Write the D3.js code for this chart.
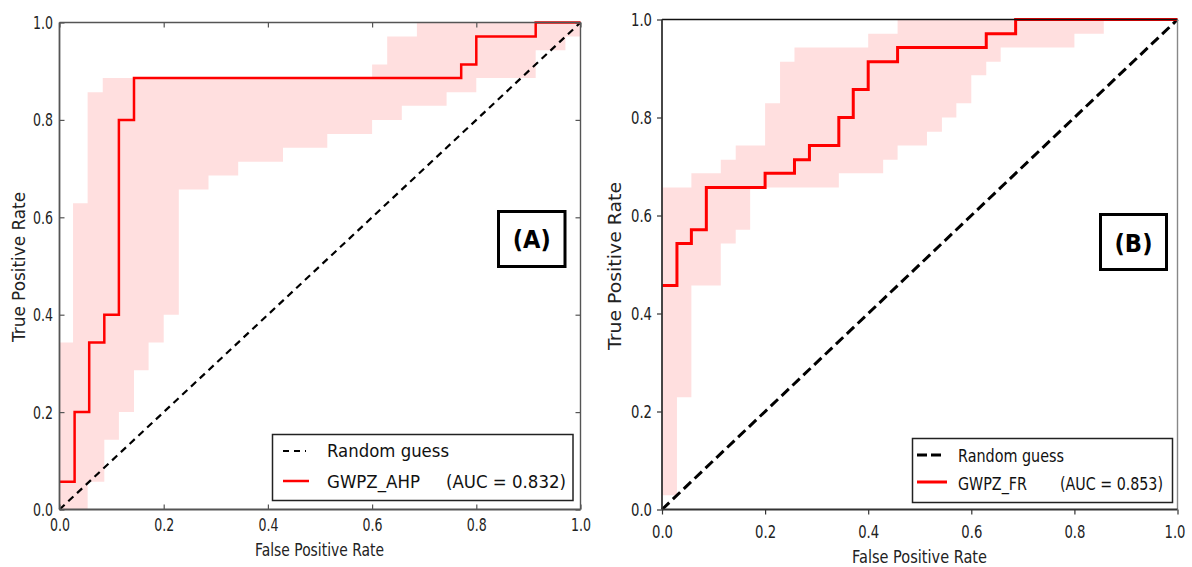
<!DOCTYPE html>
<html>
<head>
<meta charset="utf-8">
<script src="https://d3js.org/d3.v7.min.js"></script>
<style>
body{margin:0;background:#fff;font-family:'DejaVu Sans',sans-serif}
svg{display:block}
</style>
</head>
<body>
<svg id="chart" width="1192" height="567"></svg>
<script>
// tick values shared by both panels
const ticks = [0, 0.2, 0.4, 0.6, 0.8, 1.0];

// panel A : GWPZ_AHP  (step points as [fpr, tpr])
const rocA = [[0,0.057],[0.029,0.2],[0.057,0.343],[0.086,0.4],[0.114,0.8],[0.143,0.886],
  [0.771,0.914],[0.8,0.971],[0.914,1],[1,1]];
const upperA = [[0,0.343],[0.026,0.629],[0.054,0.857],[0.083,0.886],[0.6,0.914],[0.629,0.971],
  [0.686,1],[1,1]];
const lowerA = [[0,0],[0.054,0.057],[0.086,0.143],[0.114,0.2],[0.143,0.286],[0.171,0.343],
  [0.2,0.4],[0.229,0.657],[0.286,0.686],[0.343,0.714],[0.429,0.743],[0.514,0.771],[0.6,0.8],
  [0.657,0.829],[0.743,0.857],[0.8,0.886],[0.914,0.943],[0.971,0.971],[1,0.971]];

// panel B : GWPZ_FR
const rocB = [[0,0.457],[0.029,0.543],[0.057,0.571],[0.086,0.657],[0.2,0.686],[0.257,0.714],
  [0.286,0.743],[0.343,0.8],[0.371,0.857],[0.4,0.914],[0.457,0.943],[0.629,0.971],[0.686,1],[1,1]];
const upperB = [[0,0.657],[0.057,0.686],[0.114,0.714],[0.143,0.743],[0.2,0.829],[0.229,0.914],
  [0.257,0.943],[0.4,0.971],[0.457,1],[1,1]];
const lowerB = [[0,0.029],[0.029,0.229],[0.057,0.457],[0.114,0.543],[0.143,0.571],[0.171,0.657],
  [0.343,0.686],[0.429,0.714],[0.457,0.743],[0.514,0.771],[0.543,0.8],[0.571,0.829],[0.6,0.886],
  [0.629,0.914],[0.657,0.943],[0.8,0.971],[0.857,1],[1,1]];

const diag = [[0,0],[1,1]];

const svg = d3.select("#chart");

// value of a step series at x (last point with px <= x)
function stepAt(s, x) {
  let y = s[0][1];
  for (const p of s) { if (p[0] <= x + 1e-9) y = p[1]; }
  return y;
}

function drawPanel(c) {
  const x = d3.scaleLinear().domain([0, 1]).range([c.x0, c.x1]);
  const y = d3.scaleLinear().domain([0, 1]).range([c.y0, c.y1]);
  const g = svg.append("g");

  // confidence band
  const xs = Array.from(new Set(c.upper.map(d => d[0]).concat(c.lower.map(d => d[0])))).sort((a, b) => a - b);
  const band = xs.map(v => ({x: v, lo: stepAt(c.lower, v), hi: stepAt(c.upper, v)}));
  g.append("path").datum(band)
    .attr("fill", "#ffdfdf")
    .attr("d", d3.area().curve(d3.curveStepAfter)
      .x(d => x(d.x)).y0(d => y(d.lo)).y1(d => y(d.hi)));

  // random guess
  g.append("path").datum(diag)
    .attr("fill", "none").attr("stroke", "#000")
    .attr("stroke-width", c.dashW).attr("stroke-dasharray", c.dash)
    .attr("d", d3.line().x(d => x(d[0])).y(d => y(d[1])));

  // roc curve
  g.append("path").datum(c.roc)
    .attr("fill", "none").attr("stroke", "#ff0000")
    .attr("stroke-width", c.lineW).attr("stroke-linejoin", "miter")
    .attr("d", d3.line().curve(d3.curveStepAfter).x(d => x(d[0])).y(d => y(d[1])));

  // axes
  const fmt = d3.format(".1f");
  const ax = g.append("g").attr("transform", `translate(0,${c.y0})`)
    .call(d3.axisBottom(x).tickValues(ticks).tickFormat(fmt)
      .tickSizeInner(c.inward ? -5 : 5).tickSizeOuter(0));
  const ay = g.append("g").attr("transform", `translate(${c.x0},0)`)
    .call(d3.axisLeft(y).tickValues(ticks).tickFormat(fmt)
      .tickSizeInner(c.inward ? -5 : 5).tickSizeOuter(0));
  [ax, ay].forEach(a => {
    a.select(".domain").remove();
    a.selectAll("line").attr("stroke", c.spine).attr("stroke-width", 1.2);
    a.selectAll("text").attr("fill", "#222").attr("font-family", "DejaVu Sans")
      .attr("lengthAdjust", "spacingAndGlyphs");
  });
  ax.selectAll("text").attr("font-size", c.tickFs).attr("textLength", c.tickW)
    .attr("dy", null).attr("y", c.xTickBase - c.y0);
  // keep the last x label inside the page
  ax.selectAll("text").filter(d => d === 1).attr("x", c.lastShift);
  ay.selectAll("text").attr("font-size", c.tickFs).attr("textLength", c.tickW)
    .attr("dy", null).attr("x", c.yTickRight - c.x0).attr("y", 6);

  if (c.inward) {
    const at = g.append("g").attr("transform", `translate(0,${c.y1})`)
      .call(d3.axisTop(x).tickValues(ticks).tickFormat("").tickSizeInner(-5).tickSizeOuter(0));
    const ar = g.append("g").attr("transform", `translate(${c.x1},0)`)
      .call(d3.axisRight(y).tickValues(ticks).tickFormat("").tickSizeInner(-5).tickSizeOuter(0));
    [at, ar].forEach(a => {
      a.select(".domain").remove();
      a.selectAll("line").attr("stroke", c.spine).attr("stroke-width", 1.2);
    });
  }

  // spines
  g.append("line").attr("x1", c.x0).attr("x2", c.x1).attr("y1", c.y1).attr("y2", c.y1)
    .attr("stroke", c.spineTop).attr("stroke-width", 1.6);
  g.append("line").attr("x1", c.x1).attr("x2", c.x1).attr("y1", c.y1).attr("y2", c.y0)
    .attr("stroke", c.spineRight).attr("stroke-width", 1.4);
  g.append("line").attr("x1", c.x0).attr("x2", c.x1).attr("y1", c.y0).attr("y2", c.y0)
    .attr("stroke", c.spine).attr("stroke-width", 1.8);
  g.append("line").attr("x1", c.x0).attr("x2", c.x0).attr("y1", c.y1).attr("y2", c.y0)
    .attr("stroke", c.spine).attr("stroke-width", 1.8);

  // axis titles
  g.append("text").text("False Positive Rate")
    .attr("x", c.xt[0]).attr("y", c.xt[1]).attr("font-size", c.titleFs)
    .attr("textLength", c.xt[2]).attr("lengthAdjust", "spacingAndGlyphs").attr("fill", "#222");
  g.append("text").text("True Positive Rate")
    .attr("transform", `translate(${c.yt[0]},${c.yt[1]}) rotate(-90)`)
    .attr("text-anchor", "middle").attr("font-size", c.titleFs)
    .attr("textLength", c.yt[2]).attr("lengthAdjust", "spacingAndGlyphs").attr("fill", "#222");

  // legend
  const L = c.leg;
  g.append("rect").attr("x", L.x).attr("y", L.y).attr("width", L.w).attr("height", L.h)
    .attr("fill", "#fff").attr("stroke", "#222").attr("stroke-width", 1.5);
  g.append("line").attr("x1", L.sx0).attr("x2", L.sx1).attr("y1", L.r1).attr("y2", L.r1)
    .attr("stroke", "#000").attr("stroke-width", c.dashW).attr("stroke-dasharray", L.dash);
  g.append("line").attr("x1", L.sx0).attr("x2", L.sx1r).attr("y1", L.r2).attr("y2", L.r2)
    .attr("stroke", "#ff0000").attr("stroke-width", c.lineW);
  const lt = [["Random guess", L.tx, L.b1, L.w1], [c.name, L.tx, L.b2, L.w2], [c.auc, L.ax, L.b2, L.w3]];
  lt.forEach(t => g.append("text").text(t[0]).attr("x", t[1]).attr("y", t[2])
    .attr("font-size", L.fs).attr("textLength", t[3]).attr("lengthAdjust", "spacingAndGlyphs")
    .attr("fill", "#111"));

  // panel tag
  const B = c.tag;
  g.append("rect").attr("x", B.x).attr("y", B.y).attr("width", B.w).attr("height", B.h)
    .attr("fill", "#fff").attr("stroke", "#000").attr("stroke-width", 3);
  g.append("text").text(B.t).attr("x", B.x + B.w / 2).attr("y", B.base)
    .attr("text-anchor", "middle").attr("font-size", 25).attr("font-weight", "bold")
    .attr("textLength", 38).attr("lengthAdjust", "spacingAndGlyphs").attr("fill", "#000");
}

drawPanel({
  x0: 59.5, x1: 580.5, y0: 509.5, y1: 22.5, inward: true,
  roc: rocA, upper: upperA, lower: lowerA,
  lineW: 2.5, dashW: 2.2, dash: "7,5",
  spine: "#555", spineTop: "#555", spineRight: "#555",
  tickFs: 17, tickW: 20, xTickBase: 531, yTickRight: 53, lastShift: 0,
  titleFs: 17, xt: [255, 556, 129], yt: [25, 267, 150],
  name: "GWPZ_AHP", auc: "(AUC = 0.832)",
  leg: {x: 272.5, y: 434.5, w: 300.5, h: 66, sx0: 283, sx1: 306, sx1r: 309, r1: 451, r2: 481,
    dash: "6,5", tx: 327, ax: 446, b1: 457, b2: 488, w1: 122, w2: 93, w3: 120, fs: 17},
  tag: {x: 498.5, y: 211.5, w: 66.5, h: 55, t: "(A)", base: 248}
});

drawPanel({
  x0: 662, x1: 1177.5, y0: 509.5, y1: 19.5, inward: false,
  roc: rocB, upper: upperB, lower: lowerB,
  lineW: 3, dashW: 3, dash: "10,5",
  spine: "#333", spineTop: "#111", spineRight: "#888",
  tickFs: 18, tickW: 21, xTickBase: 538, yTickRight: 652, lastShift: -3,
  titleFs: 17, xt: [852, 563, 135], yt: [621, 266, 168],
  name: "GWPZ_FR", auc: "(AUC = 0.853)",
  leg: {x: 912.5, y: 438.5, w: 260, h: 64, sx0: 917, sx1: 944, sx1r: 947, r1: 455, r2: 482,
    dash: "10,4", tx: 958, ax: 1060, b1: 462, b2: 490, w1: 106, w2: 69, w3: 103, fs: 17},
  tag: {x: 1100.5, y: 214.5, w: 66, h: 55, t: "(B)", base: 252}
});
</script>
</body>
</html>
